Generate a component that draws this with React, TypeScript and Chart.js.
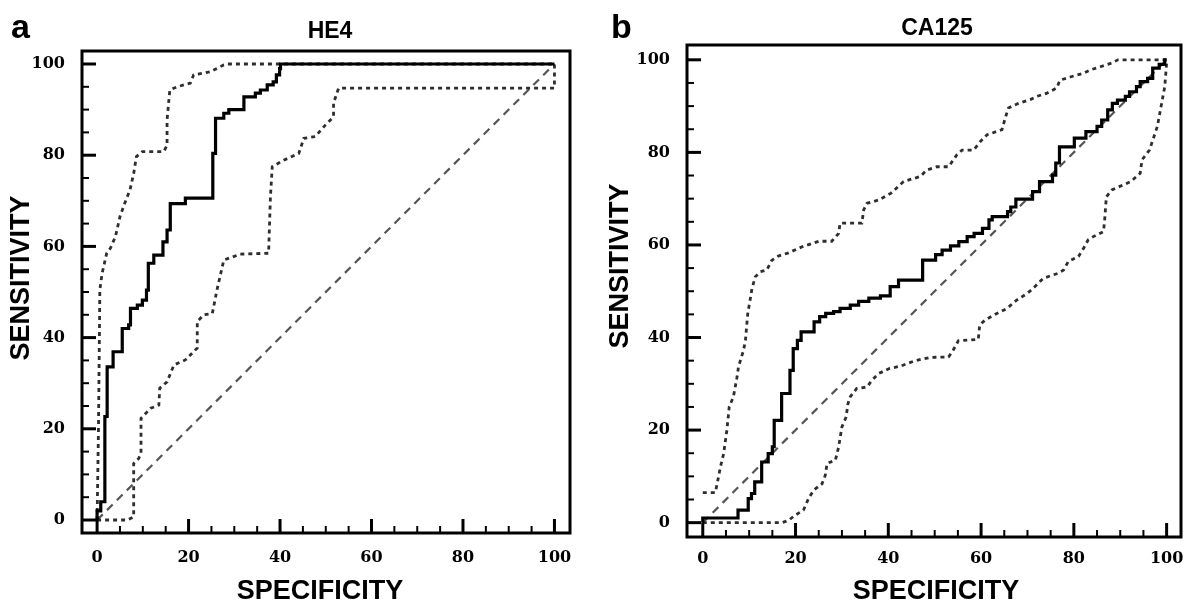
import React, { useEffect, useRef } from "react";
import { Chart, registerables } from "chart.js";

Chart.register(...registerables);

// ---------------- DATA ----------------
const tickValues = [0, 20, 40, 60, 80, 100];
const minorTickValues = [0, 5, 10, 15, 20, 25, 30, 35, 40, 45, 50, 55, 60, 65, 70, 75, 80, 85, 90, 95, 100];

const diagX = [0, 100];
const diagY = [0, 100];

// Panel a: HE4
const he4RocX = [0, 0, 0.8, 0.8, 1.7, 1.7, 2.2, 2.2, 3.5, 3.5, 5.5, 5.5, 6.9, 6.9, 7.3, 7.3, 8.8, 8.8, 9.9, 9.9, 10.8, 10.8, 11.2, 11.2, 12.4, 12.4, 14.4, 14.4, 15.3, 15.3, 16.0, 16.0, 19.3, 19.3, 25.3, 25.3, 25.9, 25.9, 27.7, 27.7, 28.8, 28.8, 32.1, 32.1, 34.6, 34.6, 35.7, 35.7, 37.2, 37.2, 38.5, 38.5, 39.2, 39.2, 39.9, 39.9, 40.1, 40.1, 100];
const he4RocY = [0, 2, 2, 4, 4, 22.7, 22.7, 33.6, 33.6, 36.9, 36.9, 42.0, 42.0, 42.8, 42.8, 46.4, 46.4, 47.1, 47.1, 48.2, 48.2, 50.4, 50.4, 56.3, 56.3, 58.1, 58.1, 61.0, 61.0, 63.6, 63.6, 69.4, 69.4, 70.6, 70.6, 80.4, 80.4, 88.1, 88.1, 89.2, 89.2, 90.0, 90.0, 92.8, 92.8, 93.6, 93.6, 94.3, 94.3, 95.4, 95.4, 96.1, 96.1, 97.6, 97.6, 99.0, 99.0, 100, 100];

const he4UpperX = [0, 0.3, 0.5, 0.6, 0.8, 1.1, 2.1, 2.9, 4.0, 5.0, 5.9, 7.2, 8.0, 8.6, 9.9, 14.6, 15.3, 15.3, 15.9, 17.5, 20.4, 21.1, 24.8, 27.7, 28.5, 100];
const he4UpperY = [0, 20, 40, 50.4, 52, 54.1, 58.5, 59.6, 62.1, 66.5, 69.1, 72.4, 76.0, 79.7, 80.8, 80.8, 82.2, 87.7, 94.3, 95.0, 95.8, 97.6, 98.3, 99.8, 100, 100];

const he4LowerX = [0, 6.6, 8.0, 8.0, 9.1, 9.6, 9.6, 11.7, 13.5, 13.7, 15.3, 16.8, 19.3, 21.9, 21.9, 23.3, 25.2, 26.2, 27.7, 31.3, 37.5, 37.9, 38.3, 40.8, 44.1, 45.2, 47.7, 49.9, 51.7, 51.7, 52.8, 100, 100];
const he4LowerY = [0, 0, 0.7, 12.4, 13.5, 14.6, 22.3, 24.5, 25.2, 28.9, 30.3, 34.0, 35.1, 37.7, 43.5, 45.0, 45.3, 50.4, 57.0, 58.3, 58.5, 70.9, 77.5, 78.9, 80.4, 83.7, 84.1, 86.6, 88.4, 91.4, 94.7, 94.7, 100];

// Panel b: CA125
const ca125RocX = [0, 0, 7.6, 7.6, 9.8, 9.8, 10.5, 10.5, 11.2, 11.2, 12.7, 12.7, 14.1, 14.1, 15.0, 15.0, 15.4, 15.4, 17.0, 17.0, 18.8, 18.8, 19.5, 19.5, 20.4, 20.4, 21.2, 21.2, 24.0, 24.0, 25.2, 25.2, 26.5, 26.5, 28.2, 28.2, 29.6, 29.6, 31.8, 31.8, 33.6, 33.6, 35.8, 35.8, 38.3, 38.3, 40.4, 40.4, 42.2, 42.2, 47.4, 47.4, 50.2, 50.2, 51.6, 51.6, 53.4, 53.4, 55.2, 55.2, 57.0, 57.0, 58.5, 58.5, 60.3, 60.3, 61.7, 61.7, 62.4, 62.4, 65.7, 65.7, 66.4, 66.4, 67.5, 67.5, 71.1, 71.1, 72.6, 72.6, 75.4, 75.4, 76.1, 76.1, 76.9, 76.9, 80.1, 80.1, 82.6, 82.6, 85.0, 85.0, 86.0, 86.0, 87.3, 87.3, 88.3, 88.3, 89.4, 89.4, 91.1, 91.1, 92.0, 92.0, 93.5, 93.5, 94.3, 94.3, 95.9, 95.9, 97.0, 97.0, 98.4, 98.4, 99.6, 99.6, 100];
const ca125RocY = [0, 1, 1, 2.7, 2.7, 5.2, 5.2, 6.3, 6.3, 8.8, 8.8, 13.1, 13.1, 14.9, 14.9, 16.4, 16.4, 22.1, 22.1, 27.9, 27.9, 32.9, 32.9, 37.6, 37.6, 39.4, 39.4, 41.2, 41.2, 43.4, 43.4, 44.5, 44.5, 45.2, 45.2, 45.6, 45.6, 46.3, 46.3, 47.0, 47.0, 47.8, 47.8, 48.5, 48.5, 49.0, 49.0, 51.0, 51.0, 52.4, 52.4, 56.7, 56.7, 57.9, 57.9, 58.9, 58.9, 59.8, 59.8, 60.7, 60.7, 61.8, 61.8, 62.5, 62.5, 63.6, 63.6, 65.4, 65.4, 66.1, 66.1, 67.2, 67.2, 68.2, 68.2, 69.9, 69.9, 71.5, 71.5, 73.7, 73.7, 75.1, 75.1, 77.7, 77.7, 81.2, 81.2, 83.1, 83.1, 84.5, 84.5, 85.6, 85.6, 87.0, 87.0, 89.2, 89.2, 90.6, 90.6, 91.3, 91.3, 92.1, 92.1, 93.1, 93.1, 94.2, 94.2, 95.3, 95.3, 96.0, 96.0, 98.2, 98.2, 99.0, 99.0, 100, 100];

const ca125UpperX = [0, 2.7, 3.1, 3.8, 4.5, 5.2, 5.7, 6.6, 7.4, 7.7, 8.8, 9.2, 9.7, 10.2, 10.6, 11.3, 12.4, 13.8, 14.9, 16.3, 18.5, 21.4, 25.0, 27.8, 29.3, 29.6, 34.3, 34.7, 35.4, 37.9, 40.6, 43.3, 46.9, 48.3, 50.5, 53.0, 54.8, 55.9, 58.4, 59.8, 61.3, 64.5, 65.2, 65.9, 68.1, 70.6, 72.0, 74.2, 76.3, 77.0, 79.6, 82.1, 83.5, 85.7, 88.2, 89.5, 100];
const ca125UpperY = [6.5, 6.5, 8.4, 12.0, 14.9, 20.0, 25.0, 27.2, 31.5, 33.7, 37.3, 39.4, 45.2, 48.1, 50.5, 53.1, 54.2, 54.6, 56.7, 57.6, 58.3, 59.6, 60.8, 60.8, 62.5, 64.7, 64.7, 67.6, 69.0, 69.7, 71.2, 73.7, 74.8, 76.2, 76.9, 76.9, 79.5, 80.5, 80.5, 82.3, 83.8, 84.9, 87.4, 89.6, 90.6, 91.4, 92.1, 92.8, 93.9, 95.6, 96.4, 97.1, 97.8, 98.5, 99.3, 100, 100];

const ca125LowerX = [0, 17.1, 18.5, 19.9, 21.7, 22.8, 23.9, 25.7, 26.4, 26.8, 28.6, 29.3, 30.0, 30.9, 31.3, 31.8, 33.2, 35.4, 36.5, 37.9, 40.2, 42.6, 45.8, 49.0, 53.0, 54.0, 55.1, 59.4, 59.7, 60.9, 63.4, 65.6, 67.7, 69.9, 71.0, 73.4, 76.7, 77.8, 78.8, 81.0, 82.1, 83.1, 84.2, 86.4, 86.7, 87.0, 88.2, 92.3, 94.3, 94.7, 96.3, 98.0, 98.8, 99.6, 100, 100];
const ca125LowerY = [0, 0, 0.5, 1.6, 2.7, 5.2, 7.0, 8.4, 10.2, 12.8, 13.5, 16.4, 20.7, 22.8, 25.7, 27.2, 29.0, 29.3, 30.8, 32.2, 33.3, 33.8, 35.0, 35.7, 35.8, 37.3, 39.3, 39.6, 42.7, 43.8, 45.2, 46.3, 48.1, 49.5, 50.4, 52.8, 53.9, 54.6, 56.4, 57.5, 59.3, 61.1, 61.8, 62.9, 66.1, 70.4, 71.9, 73.7, 75.5, 78.4, 80.5, 85.6, 89.9, 94.2, 99.3, 100];

// ---------------- HELPERS ----------------
const pts = (xs: number[], ys: number[]) => xs.map((x, i) => ({ x, y: ys[i] }));

const SANS = "'Liberation Sans', Arial, Helvetica, sans-serif";
const SERIF = "'DejaVu Serif', serif";

interface Panel {
  letter: string;
  title: string;
  rocX: number[]; rocY: number[];
  upX: number[]; upY: number[];
  loX: number[]; loY: number[];
  xMin: number; xMax: number; yMin: number; yMax: number;
  left: number;
  yAxisW: number; padR: number; padT: number; xAxisH: number;
  tickPadY: number; tickPadX: number;
  letterPos: [number, number];
  titlePos: [number, number];
  yTitlePos: [number, number];
  xTitlePos: [number, number];
}

const panels: Panel[] = [
  {
    letter: "a", title: "HE4",
    rocX: he4RocX, rocY: he4RocY, upX: he4UpperX, upY: he4UpperY, loX: he4LowerX, loY: he4LowerY,
    xMin: -3.3, xMax: 103.4, yMin: -2.85, yMax: 102.85,
    left: 0, yAxisW: 82, padR: 22, padT: 51, xAxisH: 74,
    tickPadY: 9, tickPadX: 7,
    letterPos: [11, 38], titlePos: [330, 38], yTitlePos: [22, 278], xTitlePos: [320, 592],
  },
  {
    letter: "b", title: "CA125",
    rocX: ca125RocX, rocY: ca125RocY, upX: ca125UpperX, upY: ca125UpperY, loX: ca125LowerX, loY: ca125LowerY,
    xMin: -3.4, xMax: 103.1, yMin: -3.1, yMax: 103.2,
    left: 592, yAxisW: 95, padR: 3, padT: 45, xAxisH: 70,
    tickPadY: 9, tickPadX: 4,
    letterPos: [19, 38], titlePos: [345, 35], yTitlePos: [29, 266], xTitlePos: [344, 592],
  },
];

function decorPlugin(p: Panel) {
  return {
    id: "decor" + p.letter,
    afterDraw(chart: any) {
      const { ctx, chartArea: a, scales } = chart;
      const xs = scales.x, ys = scales.y;
      ctx.save();
      // inward tick marks
      ctx.strokeStyle = "#000";
      ctx.lineCap = "butt";
      minorTickValues.forEach((v) => {
        const major = tickValues.includes(v);
        const len = major ? 14 : 7;
        ctx.lineWidth = major ? 3 : 2;
        const py = ys.getPixelForValue(v);
        ctx.beginPath();
        ctx.moveTo(a.left, py);
        ctx.lineTo(a.left + len, py);
        ctx.stroke();
        const px = xs.getPixelForValue(v);
        ctx.beginPath();
        ctx.moveTo(px, a.bottom);
        ctx.lineTo(px, a.bottom - len);
        ctx.stroke();
      });
      // frame
      ctx.lineWidth = 3;
      ctx.lineJoin = "miter";
      ctx.strokeRect(a.left, a.top, a.right - a.left, a.bottom - a.top);
      // texts
      ctx.fillStyle = "#000";
      ctx.font = `bold 34px ${SANS}`;
      ctx.textAlign = "left";
      ctx.textBaseline = "alphabetic";
      ctx.fillText(p.letter, p.letterPos[0], p.letterPos[1]);
      ctx.font = `bold 23px ${SANS}`;
      ctx.textAlign = "center";
      ctx.fillText(p.title, p.titlePos[0], p.titlePos[1]);
      ctx.font = `bold 27px ${SANS}`;
      ctx.textBaseline = "middle";
      ctx.fillText("SPECIFICITY", p.xTitlePos[0], p.xTitlePos[1]);
      ctx.translate(p.yTitlePos[0], p.yTitlePos[1]);
      ctx.rotate(-Math.PI / 2);
      ctx.fillText("SENSITIVITY", 0, 0);
      ctx.restore();
    },
  };
}

function makeConfig(p: Panel): any {
  const tickFont = { family: SERIF, size: 16, weight: "bold" as const };
  return {
    type: "scatter",
    data: {
      datasets: [
        { data: pts(p.rocX, p.rocY), borderColor: "#000", borderWidth: 3.2, showLine: true, pointRadius: 0, borderJoinStyle: "miter" },
        { data: pts(p.upX, p.upY), borderColor: "#2e2e2e", borderWidth: 2.8, borderDash: [4, 4], showLine: true, pointRadius: 0 },
        { data: pts(p.loX, p.loY), borderColor: "#2e2e2e", borderWidth: 2.8, borderDash: [4, 4], showLine: true, pointRadius: 0 },
        { data: pts(diagX, diagY), borderColor: "#555", borderWidth: 2.2, borderDash: [8, 6], showLine: true, pointRadius: 0 },
      ],
    },
    options: {
      responsive: false,
      animation: false,
      events: [],
      layout: { padding: { left: 0, right: p.padR, top: p.padT, bottom: 0 } },
      plugins: { legend: { display: false }, tooltip: { enabled: false }, title: { display: false } },
      scales: {
        x: {
          type: "linear",
          min: p.xMin,
          max: p.xMax,
          grid: { display: false },
          border: { display: false },
          afterBuildTicks: (s: any) => { s.ticks = tickValues.map((v) => ({ value: v })); },
          afterFit: (s: any) => { s.height = p.xAxisH; s.paddingLeft = 0; s.paddingRight = 0; },
          ticks: { color: "#000", font: tickFont, padding: p.tickPadX, maxRotation: 0, autoSkip: false },
        },
        y: {
          type: "linear",
          min: p.yMin,
          max: p.yMax,
          grid: { display: false },
          border: { display: false },
          afterBuildTicks: (s: any) => { s.ticks = tickValues.map((v) => ({ value: v })); },
          afterFit: (s: any) => { s.width = p.yAxisW; s.paddingTop = 0; s.paddingBottom = 0; },
          ticks: { color: "#000", font: tickFont, padding: p.tickPadY, autoSkip: false },
        },
      },
    },
    plugins: [decorPlugin(p)],
  };
}

function PanelChart({ p }: { p: Panel }) {
  const ref = useRef<HTMLCanvasElement | null>(null);
  useEffect(() => {
    if (!ref.current) return;
    const chart = new Chart(ref.current, makeConfig(p));
    return () => chart.destroy();
  }, [p]);
  return (
    <canvas
      ref={ref}
      width={592}
      height={607}
      style={{ position: "absolute", left: p.left, top: 0, width: 592, height: 607 }}
    />
  );
}

export default function App() {
  return (
    <div style={{ position: "absolute", left: 0, top: 0, width: 1184, height: 607, background: "#fff", overflow: "hidden" }}>
      {panels.map((p) => (
        <PanelChart key={p.letter} p={p} />
      ))}
    </div>
  );
}
